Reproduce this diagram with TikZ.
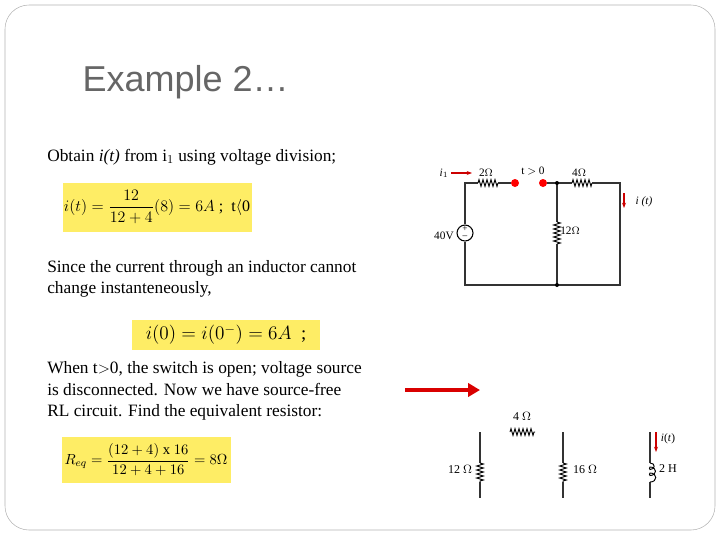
\documentclass[tikz,border=0pt]{standalone}
\usepackage{amsmath}
\usepackage{fontspec}
\setmainfont{Liberation Serif}
\newfontfamily\titlefont{Liberation Sans}
\usetikzlibrary{arrows.meta,decorations.pathmorphing}
\begin{document}
\begin{tikzpicture}[x=0.75pt,y=-0.75pt,
  wire/.style={line width=0.8pt,black!80},
  res/.style={line width=0.7pt,decorate,decoration={zigzag,segment length=3pt,amplitude=2.5pt}},
  ybox/.style={fill=yellow!85!orange!60,draw=none},
  txt/.style={anchor=west,font=\fontsize{13}{16}\selectfont,inner sep=0pt},
  lbl/.style={font=\fontsize{8.5}{9}\selectfont,inner sep=1pt},
  rarrow/.style={red!80!black,line width=1pt,-{Stealth[length=4pt]}},
  dot/.style={circle,fill=red,inner sep=0pt,minimum size=6pt}]
\useasboundingbox (0,0) rectangle (720,540);
\draw[gray!60,rounded corners=18pt] (5,5) rectangle (715,530);
\node[anchor=west,font=\titlefont\fontsize{27}{30}\selectfont,text=gray!80!black] (title) at (78,82) {Example 2…};
\node[txt] (t1) at (47,157) {Obtain \textit{i(t)} from i$_1$ using voltage division;};
\node[ybox,minimum width=189pt*0.75,minimum height=49pt*0.75] (b1) at (157.5,207.5) {};
\node[font=\fontsize{12}{14}\selectfont] (f1) at (157,207) {$i(t)=\dfrac{12}{12+4}(8)=6A$\ ;\ \ t$\langle$0};
\node[txt,align=left] (t2) at (47,279) {Since the current through an inductor cannot\\change instanteneously,};
\node[ybox,minimum width=188pt*0.75,minimum height=30pt*0.75] (b2) at (226,335) {};
\node[font=\fontsize{14}{16}\selectfont] (f2) at (226,335) {$i(0)=i(0^{-})=6A$\ \ ;};
\node[txt,align=left] (t3) at (47,391) {When t$>$0, the switch is open; voltage source\\is disconnected. Now we have source-free\\RL circuit. Find the equivalent resistor:};
\node[ybox,minimum width=169pt*0.75,minimum height=46pt*0.75] (b3) at (146.5,460) {};
\node[font=\fontsize{11}{13}\selectfont] (f3) at (146,460) {$R_{eq}=\dfrac{(12+4)\ \mathrm{x}\ 16}{12+4+16}=8\Omega$};
% big arrow
\coordinate (ba1) at (405,390); \coordinate (ba2) at (480,390);
\draw[red!85!black,line width=2.5pt,-{Triangle[length=9pt,width=10pt]}] (ba1) -- (ba2);
% circuit 1
\coordinate (A) at (465,183); \coordinate (B) at (557,183); \coordinate (C) at (620,183);
\coordinate (D) at (465,285); \coordinate (E) at (557,285); \coordinate (F) at (620,285);
\node[circle,draw,line width=0.8pt,minimum size=16pt*0.75,inner sep=0pt] (V) at (465,233) {};
\node[font=\fontsize{7}{7}\selectfont,inner sep=0pt] (vp) at (465,228.5) {+};
\node[font=\fontsize{7}{7}\selectfont,inner sep=0pt] (vm) at (465,237.5) {--};
\coordinate (r1a) at (478,183); \coordinate (r1b) at (498,183);
\node[dot] (s1) at (515,183) {}; \node[dot] (s2) at (543,183) {};
\coordinate (r2a) at (572,183); \coordinate (r2b) at (592,183);
\coordinate (r3a) at (557,222); \coordinate (r3b) at (557,244);
\draw[wire] (V) -- (A) -- (r1a); \draw[res] (r1a) -- (r1b); \draw[wire] (r1b) -- (s1);
\draw[wire] (s2) -- (B) -- (r2a); \draw[res] (r2a) -- (r2b); \draw[wire] (r2b) -- (C) -- (F) -- (D) -- (V);
\draw[wire] (B) -- (r3a); \draw[res] (r3a) -- (r3b); \draw[wire] (r3b) -- (E);
\fill (B) circle (1.5pt); \fill (E) circle (1.5pt);
\node[lbl] (l2) at (486,173) {2$\Omega$};
\node[lbl] (lt) at (533,171) {t $>$ 0};
\node[lbl] (l4) at (579,173) {4$\Omega$};
\node[lbl] (l12) at (570,231) {12$\Omega$};
\node[lbl] (l40) at (444,236) {40V};
\node[lbl] (li1) at (444,173) {\textit{i$_1$}};
\coordinate (i1a) at (451,173); \coordinate (i1b) at (472,173);
\draw[rarrow] (i1a) -- (i1b);
\coordinate (ita) at (624,193); \coordinate (itb) at (624,208);
\draw[rarrow] (ita) -- (itb);
\node[lbl] (lit) at (644,202) {\textit{i (t)}};
% circuit 2
\coordinate (p1) at (480,432); \coordinate (p2) at (480,463); \coordinate (p3) at (480,482); \coordinate (p4) at (480,498);
\draw[wire] (p1) -- (p2); \draw[res] (p2) -- (p3); \draw[wire] (p3) -- (p4);
\coordinate (q1) at (563,432); \coordinate (q2) at (563,463); \coordinate (q3) at (563,482); \coordinate (q4) at (563,498);
\draw[wire] (q1) -- (q2); \draw[res] (q2) -- (q3); \draw[wire] (q3) -- (q4);
\coordinate (h1) at (510,432); \coordinate (h2) at (535,432);
\draw[res] (h1) -- (h2);
\coordinate (k1) at (650,432); \coordinate (k2) at (650,463); \coordinate (k3) at (650,482); \coordinate (k4) at (650,498);
\draw[wire] (k1) -- (k2) (k3) -- (k4);
\draw[line width=0.7pt] (k2) to[out=0,in=0,looseness=2.2] (650,469.5) to[out=180,in=180,looseness=0.8] (650,467)
  to[out=0,in=0,looseness=2.2] (650,475.5) to[out=180,in=180,looseness=0.8] (650,473) to[out=0,in=0,looseness=2.2] (k3);
\node[lbl,font=\fontsize{9}{10}\selectfont] (m12) at (460,469) {12 $\Omega$};
\node[lbl,font=\fontsize{9}{10}\selectfont] (m4) at (522,416) {4 $\Omega$};
\node[lbl,font=\fontsize{9}{10}\selectfont] (m16) at (585,469) {16 $\Omega$};
\node[lbl,font=\fontsize{9}{10}\selectfont] (m2) at (668,469) {2 H};
\coordinate (ja) at (656,432); \coordinate (jb) at (656,452);
\draw[rarrow] (ja) -- (jb);
\node[lbl] (mi) at (668,439) {\textit{i}(\textit{t})};
\end{tikzpicture}
\end{document}
